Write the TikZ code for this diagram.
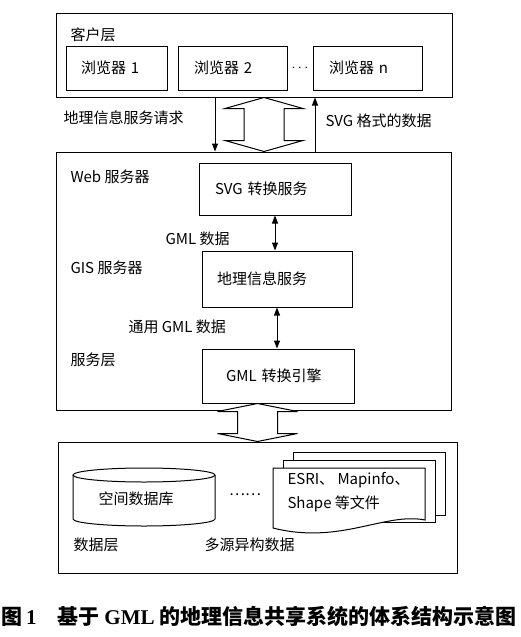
\documentclass[tikz,border=0pt]{standalone}
\usepackage{fontspec}
\setmainfont{Noto Sans CJK SC}
\newfontfamily\capserif{Liberation Serif}
\usetikzlibrary{arrows.meta,calc}

\begin{document}
\begin{tikzpicture}[x=1pt, y=-1pt, >={Triangle[width=6pt,length=8pt]},
  font=\fontsize{15}{18}\selectfont, line width=1pt,
  every node/.append style={inner sep=0pt},
  layer/.style={draw},
  box/.style={draw, inner xsep=15pt, align=left}]
\useasboundingbox (0,0) rectangle (521,637);
% 1. the three layers
\node[layer, minimum width=396pt, minimum height=84pt]  (client)  at (254,55) {};
\node[layer, minimum width=395pt, minimum height=258pt] (service) at (253.5,281) {};
\node[layer, minimum width=399pt, minimum height=131pt] (data)    at (257.5,507.5) {};

% 2. client layer
\node[anchor=west] (clientlbl) at (70,35) {客户层};
\node[box, text width=71pt, minimum height=44pt] (b1) at (116.5,68) {浏览器 1};
\node[box, text width=77pt, minimum height=44pt, inner xsep=16pt] (b2) at (232.5,68) {浏览器 2};
\node[box, text width=77pt, minimum height=44pt, inner xsep=16pt] (bn) at (367.5,68) {浏览器 n};
\node (dots) at ($(b2.east)!.5!(bn.west)$) {$\cdots$};

% 3. service layer
\node[box, text width=120pt, minimum height=52pt, inner xsep=16pt] (svg) at (275,189) {SVG 转换服务};
\node[box, text width=120pt, minimum height=56pt] (geo) at (277,279) {地理信息服务};
\node[box, text width=104pt, minimum height=54pt, inner xsep=24pt] (gml) at (278,376) {GML 转换引擎};
\draw[<->] (svg.south) -- (svg.south |- geo.north);
\draw[<->] (geo.south) -- (geo.south |- gml.north);
\foreach \txt/\x/\y in {Web 服务器/70/177, GIS 服务器/70/268, 服务层/70/360,
                        GML 数据/165/239, 通用 GML 数据/128/327}
  \node[anchor=west] at (\x,\y) {\txt};

% 4. requests and answers
\coordinate (req) at ([xshift=-39pt]client.south);
\coordinate (ans) at ([xshift=61pt]client.south);
\draw[->] (req) -- (req |- service.north);
\draw[<-] (ans) -- (ans |- service.north);
\node[anchor=west] (reqlbl) at (63,118) {地理信息服务请求};
\node[anchor=west] (anslbl) at (325,121) {SVG 格式的数据};

% 4.1. the hollow arrows
\coordinate (h1t) at ([xshift=10pt]client.south);
\coordinate (h1b) at (h1t |- service.north);
\coordinate (h2t) at (data.north |- gml.south);
\coordinate (h2b) at (data.north);
\foreach \t/\b/\hw/\hl in {h1t/h1b/39/11, h2t/h2b/40/8}
  \draw[fill=white] (\t) -- ++(\hw,\hl) -- ++({20-\hw},0) -- ($(\b)+(20,-\hl)$)
    -- ++({\hw-20},0) -- (\b) -- ++(-\hw,-\hl) -- ++({\hw-20},0)
    -- ($(\t)+(-20,\hl)$) -- ++({20-\hw},0) -- cycle;

% 5. data layer
\draw (73,475) -- (73,519) arc[start angle=180, end angle=0, x radius=71, y radius=7] -- (215,475);
\draw (144,475) ellipse[x radius=71, y radius=7];
\node (db) at (136,499) {空间数据库};
\node (more) at (245,495) {……};
\foreach \dx/\dy/\bot in {20/-16/515, 10/-8/522}
  \draw[fill=white] (273+\dx,468+\dy) rectangle (425+\dx,\bot);
\draw[fill=white] (273,468) -- (425,468) -- (425,520)
  .. controls (385,512) and (340,545) .. (273,528) -- cycle;
\node[anchor=west, align=left] (files) at (287,492) {ESRI、 Mapinfo、\\[6pt]Shape 等文件};
\node[anchor=west] (datalbl) at (73,545) {数据层};
\node[anchor=west] (srclbl) at (204,545) {多源异构数据};

% 6. caption
\node (cap) at (259,616) {\fontsize{21}{24}\selectfont\bfseries
  图\,{\capserif 1}\quad 基于 {\capserif GML} 的地理信息共享系统的体系结构示意图};
\end{tikzpicture}
\end{document}
